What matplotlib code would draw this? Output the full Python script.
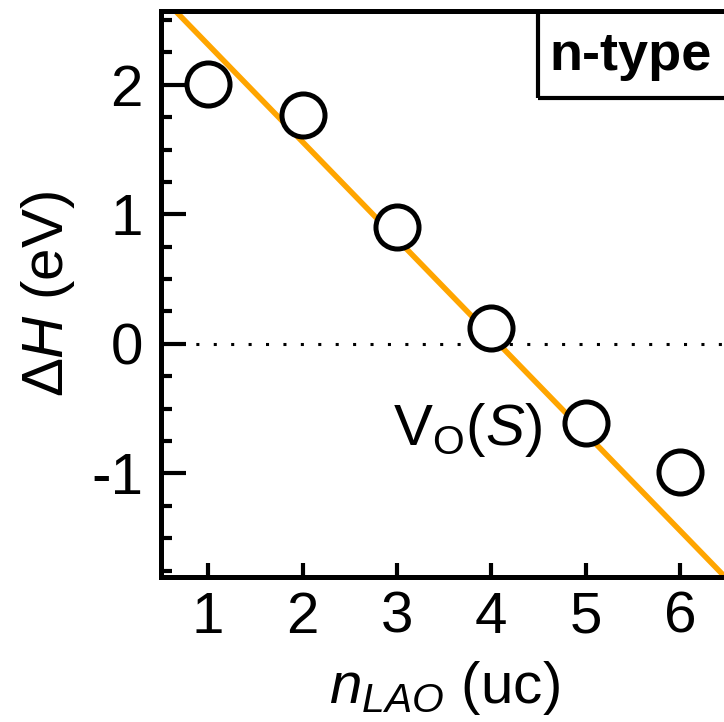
import numpy as np
import matplotlib
matplotlib.use("Agg")
import matplotlib.pyplot as plt
from matplotlib.patches import Rectangle
from matplotlib.ticker import MultipleLocator

# data
n_lao = [1, 2, 3, 4, 5, 6]
delta_h = [2.01, 1.77, 0.90, 0.12, -0.61, -0.99]
fit_slope = -0.75
fit_intercept = 3.06

plt.rcParams.update({
    "font.family": ["Liberation Sans", "DejaVu Sans"],
    "font.size": 42,
    "mathtext.fontset": "custom",
    "mathtext.rm": "Liberation Sans",
    "mathtext.it": "Liberation Sans:italic",
    "mathtext.bf": "Liberation Sans:bold",
})

fig = plt.figure(figsize=(7.24, 7.22), dpi=100)
ax = fig.add_axes([161 / 724, 145 / 722, 566 / 724, 566 / 722])

ax.set_xlim(0.5, 6.5)
ax.set_ylim(-1.8, 2.57)

xs = np.array([0.5, 6.5])
ax.plot(xs, fit_slope * xs + fit_intercept, color="#FFA500", lw=4, zorder=2)
ax.axhline(0, color="black", lw=2.2, ls=(0, (1, 4.7)), dash_capstyle="butt", zorder=1)
ax.plot(n_lao, delta_h, "o", ms=31, mew=3.6, mec="black", mfc="white", zorder=3,
        clip_on=False)

for s in ["left", "bottom", "top"]:
    ax.spines[s].set_linewidth(3.6)
ax.spines["right"].set_visible(False)

ax.set_xticks(n_lao)
ax.set_yticks([-1, 0, 1, 2])
ax.set_yticklabels(["-1", "0", "1", "2"])
ax.yaxis.set_minor_locator(MultipleLocator(0.25))
ax.tick_params(axis="y", which="major", direction="in", length=18, width=3, pad=13)
ax.tick_params(axis="y", which="minor", direction="in", length=8, width=3)
ax.tick_params(axis="x", which="major", direction="in", length=10, width=3, pad=10)

ax.set_xlabel(r"$n_{LAO}$ (uc)", labelpad=10)
ax.set_ylabel(r"$\Delta H$ (eV)", labelpad=10)

ax.add_patch(Rectangle((0.666, 0.846), 0.6, 0.3, transform=ax.transAxes,
                       fill=False, lw=3, ec="black", clip_on=True))
ax.text(0.687, 0.896, "n-type", transform=ax.transAxes, fontweight="bold",
        fontsize=39, va="baseline", ha="left")

ax.text(4.54, -0.78, r"V$_\mathrm{O}$($S$)", ha="right", va="baseline", fontsize=42)

fig.savefig("out.png", dpi=100)
